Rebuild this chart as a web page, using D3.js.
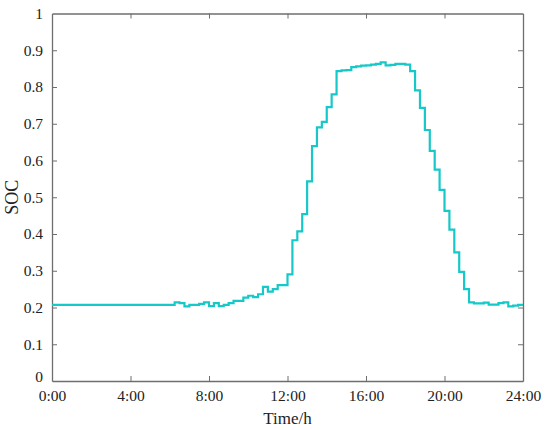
<!DOCTYPE html>
<html>
<head>
<meta charset="utf-8">
<script src="https://cdn.jsdelivr.net/npm/d3@7"></script>
<style>
  html, body { margin: 0; padding: 0; background: #fff; }
  svg { display: block; }
  text { font-family: "Liberation Serif", "DejaVu Serif", serif; fill: #222; }
</style>
</head>
<body>
<svg id="chart" width="550" height="430"></svg>
<script>
// Time (hours) at the start of each 15-minute step
const hours = [0, 6.25, 6.5, 6.75, 7, 7.25, 7.5, 7.75, 8, 8.25, 8.5, 8.75, 9, 9.25, 9.5, 9.75,
  10, 10.25, 10.5, 10.75, 11, 11.25, 11.5, 11.75, 12, 12.25, 12.5, 12.75, 13, 13.25, 13.5, 13.75,
  14, 14.25, 14.5, 14.75, 15, 15.25, 15.5, 15.75, 16, 16.25, 16.5, 16.75, 17, 17.25, 17.5, 17.75,
  18, 18.25, 18.5, 18.75, 19, 19.25, 19.5, 19.75, 20, 20.25, 20.5, 20.75, 21, 21.25, 21.5, 21.75,
  22, 22.25, 22.5, 22.75, 23, 23.25, 23.5, 23.75, 24];
// State of charge for each step
const soc = [0.207, 0.214, 0.212, 0.203, 0.207, 0.207, 0.210, 0.214, 0.204, 0.212, 0.204, 0.207, 0.212, 0.218, 0.218, 0.227,
  0.232, 0.228, 0.236, 0.256, 0.243, 0.250, 0.261, 0.261, 0.290, 0.383, 0.407, 0.454, 0.543, 0.639, 0.690, 0.705,
  0.745, 0.780, 0.843, 0.845, 0.846, 0.854, 0.856, 0.858, 0.859, 0.861, 0.863, 0.867, 0.859, 0.860, 0.863, 0.863,
  0.861, 0.843, 0.791, 0.743, 0.683, 0.626, 0.575, 0.520, 0.463, 0.412, 0.350, 0.297, 0.250, 0.214, 0.211, 0.211,
  0.213, 0.208, 0.208, 0.212, 0.214, 0.203, 0.205, 0.207, 0.207];
const xTicks = [0, 4, 8, 12, 16, 20, 24];
const xTickLabels = ["0:00", "4:00", "8:00", "12:00", "16:00", "20:00", "24:00"];
const yTicks = [0, 0.1, 0.2, 0.3, 0.4, 0.5, 0.6, 0.7, 0.8, 0.9, 1];
const yTickLabels = ["0", "0.1", "0.2", "0.3", "0.4", "0.5", "0.6", "0.7", "0.8", "0.9", "1"];

const margin = {left: 52, right: 27, top: 13.5, bottom: 49};
const W = 550, H = 430;
const svg = d3.select("#chart");
const x = d3.scaleLinear().domain([0, 24]).range([margin.left, W - margin.right]);
const y = d3.scaleLinear().domain([0, 1]).range([H - margin.bottom, margin.top]);

const axisColor = "#6e6e6e";
const tickLen = 5;

// bottom axis
const gx = svg.append("g").attr("transform", `translate(0,${y(0)})`)
  .call(d3.axisBottom(x).tickValues(xTicks).tickFormat((d, i) => xTickLabels[i])
    .tickSizeInner(-tickLen).tickSizeOuter(0).tickPadding(9));
// top axis (ticks only)
const gxt = svg.append("g").attr("transform", `translate(0,${y(1)})`)
  .call(d3.axisTop(x).tickValues(xTicks).tickFormat("").tickSizeInner(-tickLen).tickSizeOuter(0));
// left axis
const gy = svg.append("g").attr("transform", `translate(${x(0)},0)`)
  .call(d3.axisLeft(y).tickValues(yTicks).tickFormat((d, i) => yTickLabels[i])
    .tickSizeInner(-tickLen).tickSizeOuter(0).tickPadding(9));
// right axis (ticks only)
const gyr = svg.append("g").attr("transform", `translate(${x(24)},0)`)
  .call(d3.axisRight(y).tickValues(yTicks).tickFormat("").tickSizeInner(-tickLen).tickSizeOuter(0));

[gx, gxt, gy, gyr].forEach(g => {
  g.selectAll("path.domain").attr("stroke", axisColor).attr("stroke-width", 1.3);
  g.selectAll(".tick line").attr("stroke", axisColor).attr("stroke-width", 1);
  g.selectAll(".tick text").attr("font-size", 15.5).attr("fill", "#222")
    .attr("font-family", "'Liberation Serif', 'DejaVu Serif', serif");
});
// "0" label on the y axis sits a little above the corner, as in the reference
gy.selectAll(".tick").filter(d => d === 0).select("text").attr("dy", "0.05em");
// no tick marks at the frame corners
gx.selectAll(".tick").filter(d => d === 0 || d === 24).select("line").remove();
gxt.selectAll(".tick").filter(d => d === 0 || d === 24).select("line").remove();
gy.selectAll(".tick").filter(d => d === 0 || d === 1).select("line").remove();
gyr.selectAll(".tick").filter(d => d === 0 || d === 1).select("line").remove();

// data line
const data = hours.map((h, i) => ({h, v: soc[i]}));
const line = d3.line().x(d => x(d.h)).y(d => y(d.v)).curve(d3.curveStepAfter);
svg.append("path").datum(data)
  .attr("d", line)
  .attr("fill", "none")
  .attr("stroke", "#17c8c8")
  .attr("stroke-width", 2.2)
  .attr("stroke-linejoin", "miter");

// axis titles
svg.append("text")
  .attr("x", (x(0) + x(24)) / 2).attr("y", 424)
  .attr("text-anchor", "middle").attr("font-size", 17)
  .text("Time/h");
svg.append("text")
  .attr("transform", `translate(18,${y(0.5)}) rotate(-90)`)
  .attr("text-anchor", "middle").attr("font-size", 18)
  .text("SOC");
</script>
</body>
</html>
